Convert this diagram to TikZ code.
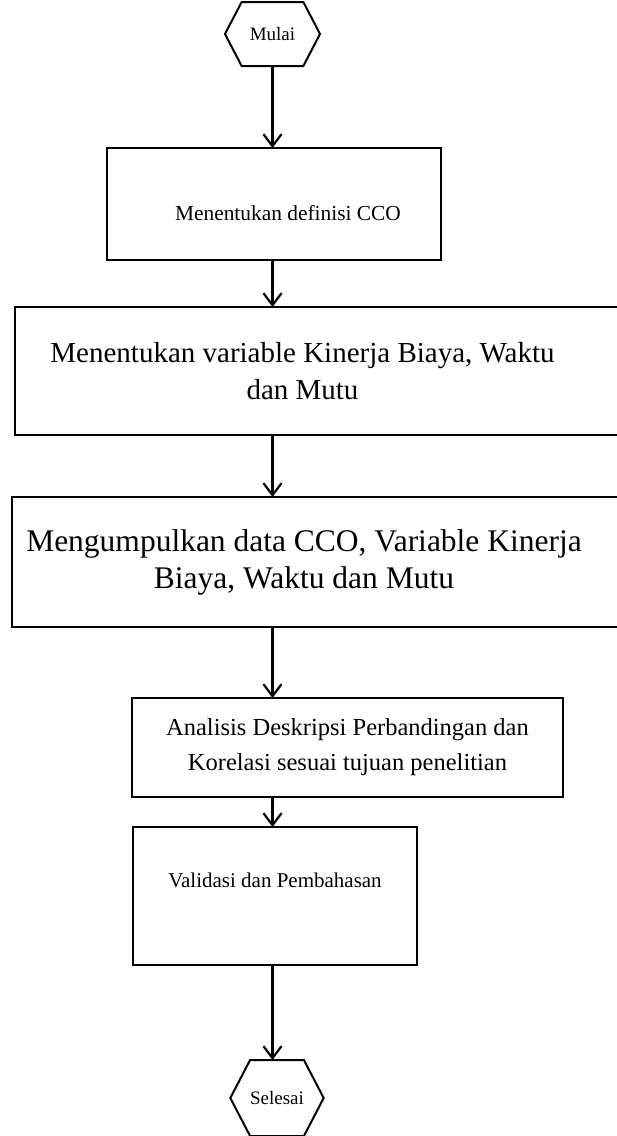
\documentclass[tikz,border=0pt]{standalone}
\usepackage{fontspec}
\setmainfont{Liberation Serif}
\usepackage{tikz}
\usetikzlibrary{shapes.symbols, arrows.meta}
\tikzset{
  flowbox/.style={
    draw, rectangle, line width=2pt, align=center,
    inner sep=0pt, outer sep=0pt
  },
  hexbox/.style={
    draw, signal, signal to=west and east, signal pointer angle=125,
    line width=2pt, inner sep=0pt, outer sep=0pt, font=\fontsize{19}{23}\selectfont
  },
  flowarrow/.style={
    line width=2.2pt,
    -{Straight Barb[length=12pt, width=18pt, line width=2.2pt]}
  }
}

\begin{document}
\begin{tikzpicture}[x=1pt, y=-1pt]
\useasboundingbox (0,0) rectangle (617,1136);
\newcommand\XMid{272.5}
\node[hexbox, minimum width=95pt, minimum height=64pt] (Start) at (\XMid,34) {Mulai};
\node[flowbox, minimum width=334pt, minimum height=112pt, font=\fontsize{21.4}{25}\selectfont,
      text height=32pt, text depth=0pt] (Def) at (274,204) {\kern28pt Menentukan definisi CCO};
\node[flowbox, minimum width=625pt, minimum height=128pt, font=\fontsize{29}{37}\selectfont] (Var) at (327.5,371)
  {Menentukan variable Kinerja Biaya, Waktu\kern50pt\\dan Mutu\kern50pt};
\node[flowbox, minimum width=628pt, minimum height=130pt, font=\fontsize{31.5}{37}\selectfont] (Data) at (326,562)
  {Mengumpulkan data CCO, Variable Kinerja\kern44pt\\Biaya, Waktu dan Mutu\kern44pt};
\node[flowbox, minimum width=431pt, minimum height=99pt, font=\fontsize{24.5}{35}\selectfont] (Anl) at (347.5,747.5)
  {Analisis Deskripsi Perbandingan dan\\Korelasi sesuai tujuan penelitian};
\node[flowbox, minimum width=284pt, minimum height=138pt, font=\fontsize{21}{25}\selectfont,
      text height=14pt, text depth=32pt] (Val) at (275,896) {Validasi dan Pembahasan};
\node[hexbox, minimum width=90pt, minimum height=76pt] (End) at (277,1098) {Selesai};

% arrows down the chain
\draw[flowarrow] (Start.south) -- (Start.south |- Def.north);
\draw[flowarrow] (Def.south -| Start.south) -- (Start.south |- Var.north);
\draw[flowarrow] (Var.south -| Start.south) -- (Start.south |- Data.north);
\draw[flowarrow] (Data.south -| Start.south) -- (Start.south |- Anl.north);
\draw[flowarrow] (Anl.south -| Start.south) -- (Start.south |- Val.north);
\draw[flowarrow] (Val.south -| Start.south) -- (Start.south |- End.north);
\end{tikzpicture}
\end{document}
